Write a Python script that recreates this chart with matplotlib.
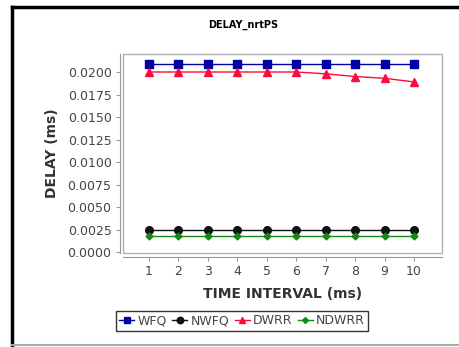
import matplotlib
matplotlib.use('Agg')
import matplotlib.pyplot as plt
from matplotlib.patches import Rectangle
from matplotlib.lines import Line2D

# Datos
intervalos = [1, 2, 3, 4, 5, 6, 7, 8, 9, 10]
wfq   = [0.0209] * 10
nwfq  = [0.0024] * 10
dwrr  = [0.0200, 0.0200, 0.0200, 0.0200, 0.0200, 0.0200, 0.0198, 0.0195, 0.0193, 0.0189]
ndwrr = [0.0018] * 10
yticks = [0.0, 0.0025, 0.005, 0.0075, 0.01, 0.0125, 0.015, 0.0175, 0.02]

GRIS_TXT = '#444444'
GRIS_EJE = '#999999'

fig = plt.figure(figsize=(4.6, 3.47), dpi=100)
ax = fig.add_axes([123/460, 94/347, 319/460, 199/347])

ax.plot(intervalos, wfq, color='#0000a8', marker='s', ms=5.5, lw=1, label='WFQ')
ax.plot(intervalos, nwfq, color='#111111', marker='o', ms=5.5, lw=1, label='NWFQ')
ax.plot(intervalos, dwrr, color='#ff0a3c', marker='^', ms=5.5, lw=1, label='DWRR')
ax.plot(intervalos, ndwrr, color='#108a10', marker='D', ms=3.5, lw=1, label='NDWRR')

ax.set_xlim(0.12, 10.95)
ax.set_ylim(-0.0001, 0.022)
ax.set_xticks(intervalos)
ax.set_yticks(yticks)
ax.set_yticklabels([f'{v:.4f}' for v in yticks])

# ejes separados del area del grafico
for s in ['top', 'right']:
    ax.spines[s].set_visible(False)
ax.spines['left'].set_position(('outward', 2.2))
ax.spines['bottom'].set_position(('outward', 2.9))
ax.spines['left'].set_color(GRIS_EJE)
ax.spines['bottom'].set_color(GRIS_EJE)
ax.tick_params(direction='out', length=3, color=GRIS_EJE, labelsize=9,
               labelcolor=GRIS_TXT, pad=3)
ax.add_patch(Rectangle((0, 0), 1, 1, transform=ax.transAxes, fill=False,
                       edgecolor='#b0b0b0', lw=1, clip_on=False))

ax.set_xlabel('TIME INTERVAL (ms)', fontsize=10, fontweight='bold',
              color='#333333', labelpad=6)
ax.set_ylabel('DELAY (ms)', fontsize=10, fontweight='bold',
              color='#333333', labelpad=6)

fig.text(243/460, 1 - 25/347, 'DELAY_nrtPS', ha='center', va='center',
         fontsize=7, fontweight='bold')

leg = fig.legend(loc='center', bbox_to_anchor=(242/460, 1 - 321/347), ncol=4,
                 fontsize=9, frameon=True, fancybox=False, edgecolor='black',
                 handlelength=1.2, handletextpad=0.25, columnspacing=0.45,
                 borderpad=0.25, borderaxespad=0, labelcolor=GRIS_TXT,
                 markerscale=0.85)
leg.get_frame().set_linewidth(1)

# borde de la figura
fig.add_artist(Line2D([12/460, 12/460], [0, 1 - 7/347], color='black', lw=2.5))
fig.add_artist(Line2D([12/460, 1], [1 - 7/347, 1 - 7/347], color='black', lw=2.5))
fig.add_artist(Line2D([12/460, 1], [1 - 345/347, 1 - 345/347], color='#aaaaaa', lw=1.5))

fig.savefig('out.png', dpi=100)
